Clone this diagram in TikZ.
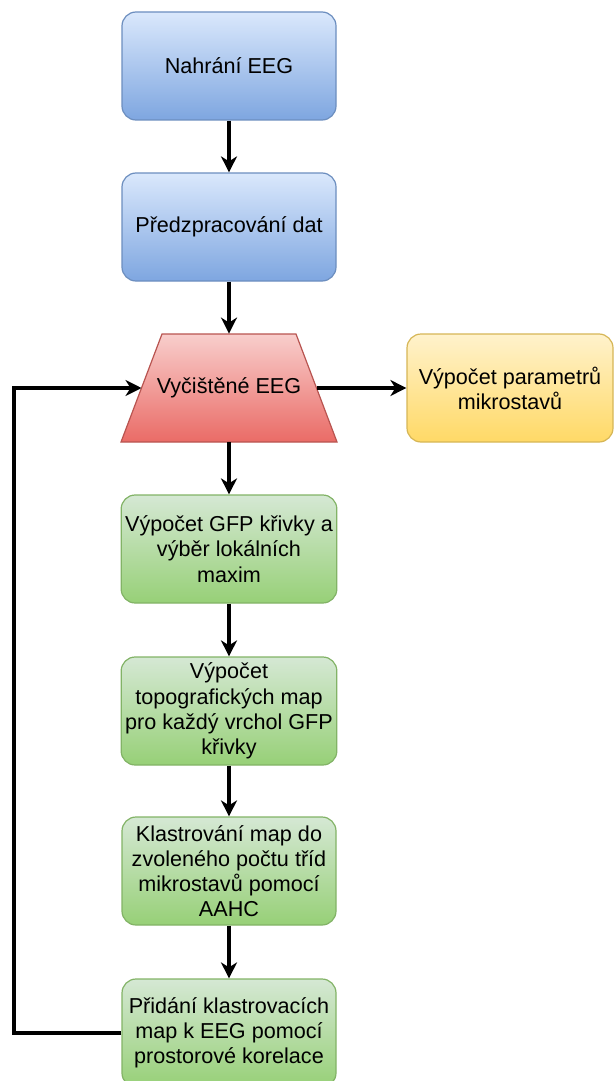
\documentclass[tikz,border=0pt]{standalone}
\usepackage{fontspec}
\setmainfont{Liberation Sans}
\usepackage{tikz}
\usetikzlibrary{arrows.meta}

\definecolor{bluetop}{HTML}{DAE8FC}
\definecolor{bluebot}{HTML}{7EA6E0}
\definecolor{blueline}{HTML}{6C8EBF}
\definecolor{redtop}{HTML}{F8CECC}
\definecolor{redbot}{HTML}{EA6B66}
\definecolor{redline}{HTML}{B85450}
\definecolor{greentop}{HTML}{D5E8D4}
\definecolor{greenbot}{HTML}{97D077}
\definecolor{greenline}{HTML}{82B366}
\definecolor{yellowtop}{HTML}{FFF2CC}
\definecolor{yellowbot}{HTML}{FFD966}
\definecolor{yellowline}{HTML}{D6B656}

\tikzset{
  stepbox/.style={rounded corners=7pt, minimum width=107pt, minimum height=54pt,
    align=center, inner sep=2pt, line width=0.6pt, font=\fontsize{10.8}{12.6}\selectfont},
  bluebox/.style={stepbox, draw=blueline, top color=bluetop, bottom color=bluebot},
  greenbox/.style={stepbox, draw=greenline, top color=greentop, bottom color=greenbot},
  yellowbox/.style={stepbox, minimum width=103pt, draw=yellowline, top color=yellowtop, bottom color=yellowbot},
  databox/.style={minimum width=108pt, minimum height=54pt, inner sep=0pt, font=\fontsize{10.8}{12.6}\selectfont},
  flow/.style={line width=1.6pt, -{Stealth[length=8pt,width=8pt,inset=2.5pt]}}
}

\begin{document}
\begin{tikzpicture}[x=0.5pt,y=-0.5pt]
  \useasboundingbox (0,0) rectangle (614,1081); % page as in the reference, pixel units
  \clip (0,0) rectangle (614,1081);
  % the red trapezoid first, its text goes on top
  \shade[top color=redtop, bottom color=redbot, draw=redline, line width=0.6pt]
    (121,442) -- (162,334) -- (296,334) -- (337,442) -- cycle;
  \coordinate (cleanleft) at (141.5,388);  % middle of the slanted sides
  \coordinate (cleanright) at (316.5,388);
  % main column of steps
  \node[bluebox] (rec) at (229,66) {Nahrání EEG};
  \node[bluebox] (prep) at (229,227) {Předzpracování dat};
  \node[databox] (clean) at (229,388) {Vyčištěné EEG};
  \node[yellowbox] (param) at (510,388) {Výpočet parametrů\\mikrostavů};
  \node[greenbox] (gfp) at (229,549) {Výpočet GFP křivky a\\výběr lokálních\\maxim};
  \node[greenbox] (topo) at (229,711) {Výpočet\\topografických map\\pro každý vrchol GFP\\křivky};
  \node[greenbox] (clust) at (229,871) {Klastrování map do\\zvoleného počtu tříd\\mikrostavů pomocí\\AAHC};
  \node[greenbox] (fit) at (229,1033) {Přidání klastrovacích\\map k EEG pomocí\\prostorové korelace};
  \coordinate (back) at (14,0); % x of the loop going back up

  \draw[flow] (rec) -- (prep);
  \draw[flow] (prep) -- (clean);
  \draw[flow] (cleanright) -- (param);
  \draw[flow] (clean) -- (gfp);
  \draw[flow] (gfp) -- (topo);
  \draw[flow] (topo) -- (clust);
  \draw[flow] (clust) -- (fit);
  \draw[flow] (fit.west) -| (back |- cleanleft) -- (cleanleft); % loop back
\end{tikzpicture}
\end{document}
